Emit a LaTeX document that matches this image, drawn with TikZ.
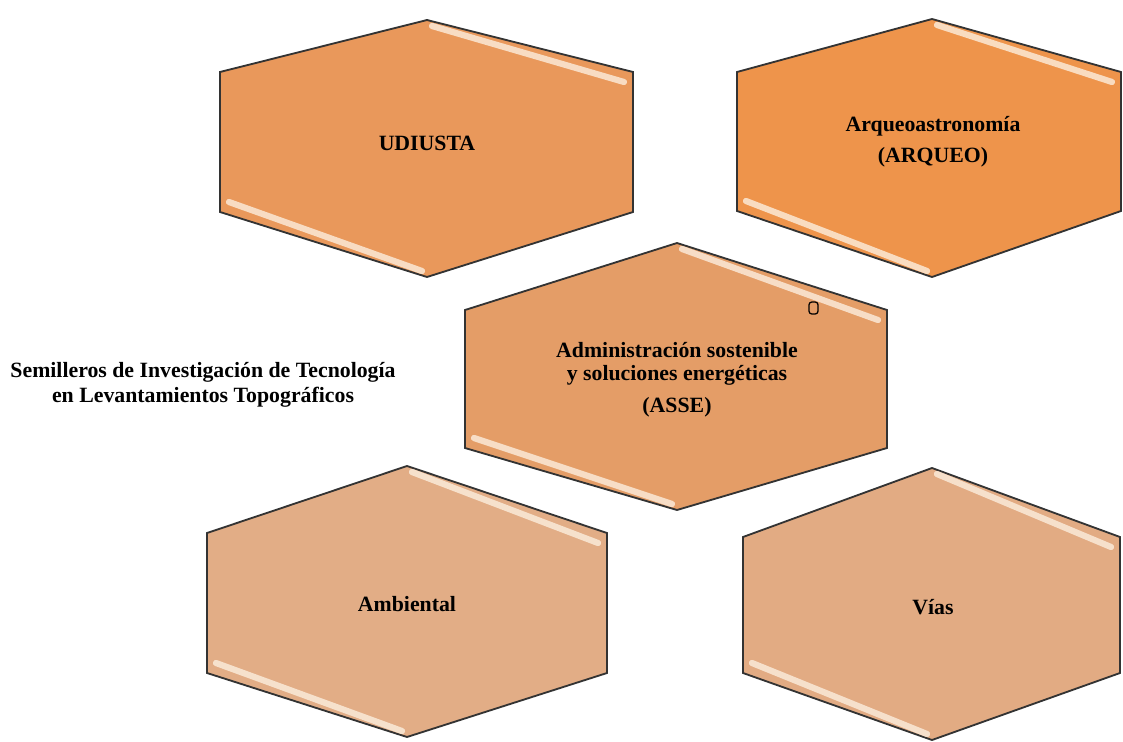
\documentclass[tikz,border=0pt]{standalone}
\usepackage{fontspec}
\setmainfont{Liberation Serif}
\usepackage{tikz}
\usetikzlibrary{calc}

\definecolor{hexUdi}{RGB}{233,152,91}
\definecolor{hexArq}{RGB}{238,148,75}
\definecolor{hexAsse}{RGB}{228,157,103}
\definecolor{hexAmb}{RGB}{226,173,134}
\definecolor{hexVias}{RGB}{226,171,131}
\definecolor{shine}{RGB}{252,238,222}

\begin{document}
\begin{tikzpicture}[x=0.025cm, y=-0.025cm, font=\bfseries\fontsize{15.5}{16}\selectfont,
  hexcell/.style={draw=black!80, line width=1.3pt, line join=miter},
  hilite/.style={shine, line width=4.4pt, line cap=round, opacity=0.8},
  cellname/.style={align=center, inner sep=0pt}]
  \useasboundingbox (0,0) rectangle (1123,742);
  % cells: left, right, top, bottom, upper corner y, lower corner y, centre x, fill
  \foreach \nm/\L/\R/\T/\B/\U/\D/\cx/\fc in {
      udi/220/633/20/277/72/212/427/hexUdi,
      arq/737/1121/19/277/72/211/932/hexArq,
      asse/465/887/243/510/310/448/677/hexAsse,
      amb/207/607/466/737/533/673/407/hexAmb,
      vias/743/1120/468/740/537/673/932/hexVias}{
    \coordinate (\nm-t) at (\cx,\T);
    \coordinate (\nm-b) at (\cx,\B);
    \coordinate (\nm-lu) at (\L,\U);
    \coordinate (\nm-ld) at (\L,\D);
    \coordinate (\nm-ru) at (\R,\U);
    \coordinate (\nm-rd) at (\R,\D);
    \draw[hexcell, fill=\fc] (\nm-t) -- (\nm-ru) -- (\nm-rd) -- (\nm-b)
      -- (\nm-ld) -- (\nm-lu) -- cycle;
    % glossy strips on the upper right and lower left edges
    \draw[hilite] ($(\nm-t)+(5,6)$) -- ($(\nm-ru)+(-9,10)$);
    \draw[hilite] ($(\nm-ld)+(9,-10)$) -- ($(\nm-b)+(-5,-6)$);
  }

  \node[cellname] (udiusta) at (427,143) {UDIUSTA};
  \node[cellname] (arqueo) at (933,142) {Arqueoastronomía\\[6pt](ARQUEO)};
  \node[cellname] (asse) at (677,380) {Administración sostenible\\y soluciones energéticas\\[7pt](ASSE)};
  \node[cellname] (ambiental) at (407,604) {Ambiental};
  \node[cellname] (vias) at (933,607) {Vías};

  \node[cellname, font=\bfseries\fontsize{15.5}{17.8}\selectfont] (semilleros) at (203,385)
    {Semilleros de Investigación de Tecnología\\en Levantamientos Topográficos};

  % small handle mark inside the ASSE cell
  \draw[black, line width=0.9pt, rounded corners=2pt] (809,302) rectangle (818,314);
\end{tikzpicture}
\end{document}
